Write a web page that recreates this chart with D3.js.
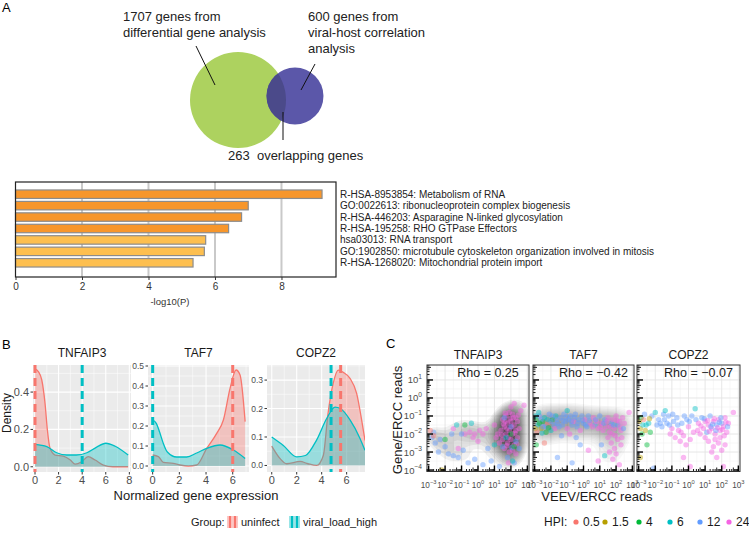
<!DOCTYPE html>
<html>
<head>
<meta charset="utf-8">
<script src="https://cdn.jsdelivr.net/npm/d3@7"></script>
<style>
  body { margin: 0; background: #fff; }
  svg { display: block; }
</style>
</head>
<body>
<svg id="fig" width="749" height="534"></svg>
<script>
// ---------- data ----------
const vennSizes = [1707, 600];
const vennOverlap = 263;
const vennText1 = ["1707 genes from", "differential gene analysis"];
const vennText2 = ["600 genes from", "viral-host correlation", "analysis"];

const termLabels = [
  "R-HSA-8953854: Metabolism of RNA",
  "GO:0022613: ribonucleoprotein complex biogenesis",
  "R-HSA-446203: Asparagine N-linked glycosylation",
  "R-HSA-195258: RHO GTPase Effectors",
  "hsa03013: RNA transport",
  "GO:1902850: microtubule cytoskeleton organization involved in mitosis",
  "R-HSA-1268020: Mitochondrial protein import"
];
const termValues = [9.22, 7.0, 6.8, 6.41, 5.72, 5.68, 5.34];
const barTicks = [0, 2, 4, 6, 8];

const densityGenes = ["TNFAIP3", "TAF7", "COPZ2"];
const groups = ["uninfect", "viral_load_high"];
const groupColors = ["#F8766D", "#00BFC4"];
// [normalized expression, density]
const tnfUninfect = [[0,0.524],[0.28,0.51],[0.57,0.466],[0.85,0.34],[1.05,0.197],[1.27,0.10],[1.7,0.063],[2.4,0.057],[3.0,0.036],[3.4,0.014],[3.96,0.027],[4.5,0.054],[5.1,0.036],[5.8,0.009],[6.6,0.0],[7.9,0.0]];
const tnfViral = [[0,0.12],[1.0,0.108],[1.84,0.075],[2.7,0.063],[3.5,0.063],[4.4,0.075],[5.2,0.104],[6.0,0.126],[6.8,0.11],[7.9,0.063]];
const tafUninfect = [[0,0.055],[0.43,0.047],[0.8,0.018],[1.55,0.013],[2.05,0.005],[2.67,0.0],[3.3,0.005],[4.05,0.088],[4.8,0.163],[5.3,0.23],[5.8,0.388],[6.25,0.48],[6.55,0.455],[6.93,0.222]];
const tafViral = [[0,0.23],[0.27,0.213],[0.52,0.17],[0.77,0.118],[1.1,0.07],[1.8,0.045],[2.55,0.045],[3.3,0.065],[4.05,0.088],[5.05,0.105],[6.05,0.08],[6.93,0.038]];
const copUninfect = [[0,0.068],[0.67,0.024],[1.2,0.006],[2.27,0.014],[2.9,0.006],[3.6,0.0],[4.13,0.035],[4.5,0.18],[4.93,0.29],[5.33,0.335],[5.73,0.327],[6.27,0.306],[6.8,0.253],[7.2,0.16],[7.47,0.088]];
const copViral = [[0,0.10],[0.93,0.07],[2.0,0.03],[2.7,0.035],[3.6,0.09],[4.4,0.165],[5.07,0.205],[5.5,0.2],[6.27,0.16],[7.07,0.095],[7.47,0.053]];
const uninfectMedian = [0, 6.0, 5.52];
const viralMedian = [4, 0, 4.75];

const hpiLevels = ["0.5", "1.5", "4", "6", "12", "24"];
const hpiColors = ["#F8766D", "#B79F00", "#00BA38", "#00BFC4", "#619CFF", "#F564E3"];
const rhoValues = [0.25, -0.42, -0.07];
// [log10 VEEV/ERCC, log10 Gene/ERCC, HPI index]
const tnfPoints = [
 [1.5,-1.2,5],[1.7,-1.0,5],[1.9,-0.8,5],[2.1,-0.9,5],[2.3,-1.1,5],[1.6,-1.6,5],[1.8,-1.4,5],[2.0,-1.3,5],[2.2,-1.5,5],[2.4,-1.3,5],
 [1.4,-1.8,5],[1.7,-2.0,5],[1.9,-1.8,5],[2.1,-2.0,5],[2.3,-1.8,5],[1.5,-2.3,5],[1.8,-2.5,5],[2.0,-2.3,5],[2.2,-2.6,5],[2.4,-2.2,5],
 [1.6,-2.8,5],[1.9,-3.0,5],[2.1,-2.9,5],[2.3,-3.1,5],[1.3,-2.5,5],[1.2,-2.0,5],[2.5,-1.7,5],[2.6,-0.7,5],[2.0,-0.5,5],[2.2,-0.3,5],
 [2.8,-0.4,5],[1.0,-1.5,5],[1.1,-2.2,5],[1.75,-1.7,5],[2.05,-1.6,5],[1.85,-2.2,5],[2.15,-1.1,5],[1.65,-1.3,5],
 [1.55,-1.45,5],[1.95,-1.15,5],[2.25,-1.95,5],[1.45,-2.05,5],[2.35,-2.55,5],[1.75,-2.65,5],[2.05,-2.75,4],[1.65,-0.85,5],[2.45,-0.95,5],[1.85,-3.6,5],
 [1.6,-1.1,4],[2.0,-1.6,4],[2.3,-2.4,4],[1.8,-3.3,4],[2.2,-3.6,4],[1.5,-2.7,4],[2.5,-2.8,4],[0.8,-3.5,4],[1.3,-3.8,4],
 [1.7,-2.2,3],[2.1,-3.5,3],[1.0,-2.6,3],[2.0,-2.0,2],[2.2,-2.7,2],
 [-0.8,-2.0,5],[-0.5,-1.9,5],[-0.2,-2.0,5],[0.1,-1.8,5],[0.3,-2.0,5],[-0.3,-2.2,5],[0.0,-2.4,5],[-1.5,-1.7,5],[-1.2,-2.8,5],[0.5,-1.7,5],
 [-2.8,-2.2,4],[-2.6,-2.5,4],[-2.3,-2.3,4],[-2.0,-2.7,4],[-1.8,-3.1,4],[-1.5,-3.2,4],[-1.2,-3.3,4],[-0.9,-2.9,4],[-2.4,-3.0,4],[-1.0,-2.0,4],
 [-0.6,-3.6,4],[-0.2,-3.4,4],[0.3,-3.7,4],[-2.7,-1.9,4],[-1.6,-2.0,4],[0.6,-2.8,4],
 [-2.9,-1.8,0],[-2.7,-2.1,0],[-2.2,-4.0,1],[-0.8,-1.5,2],[-2.0,-2.3,2],[-1.3,-1.5,3],[-0.4,-1.4,3]
];
const tafPoints = [
 [-2.9,-1.2,2],[-2.8,-1.5,3],[-2.7,-1.0,4],[-2.6,-1.7,1],[-2.5,-1.3,2],[-2.4,-1.1,3],[-2.3,-1.6,4],[-2.2,-1.4,0],[-2.1,-0.9,4],[-2.0,-1.8,3],
 [-1.9,-1.2,2],[-1.8,-1.5,4],[-1.7,-1.0,3],[-1.6,-1.4,4],[-2.95,-1.7,1],[-2.85,-1.9,0],[-2.6,-1.2,4],[-2.3,-1.9,2],[-2.0,-1.3,4],[-1.75,-1.7,5],
 [-2.9,-2.6,2],[-2.4,-2.5,0],[-2.75,-0.8,3],
 [-2.95,-1.0,3],[-2.7,-1.4,2],[-2.5,-1.6,4],[-2.2,-1.2,3],[-1.9,-1.0,4],[-1.65,-1.2,4],[-1.5,-1.6,4],[-2.55,-1.95,3],[-2.15,-1.65,2],
 [-1.4,-1.1,4],[-1.3,-1.5,4],[-1.2,-0.9,4],[-1.1,-1.3,4],[-1.0,-1.7,5],[-0.9,-1.2,4],[-0.8,-1.0,4],[-0.7,-1.5,4],[-0.6,-1.3,5],[-0.5,-0.9,4],
 [-0.4,-1.6,4],[-0.3,-1.2,4],[-0.2,-1.8,5],[-0.1,-1.0,4],[0.0,-1.4,4],[0.1,-1.2,5],[0.2,-1.6,4],[0.3,-1.0,4],[0.4,-1.4,5],[-1.35,-2.1,4],
 [-0.85,-2.0,5],[-0.45,-2.2,4],[-1.0,-0.7,3],[-0.2,-2.6,4],[0.3,-2.9,5],[-1.6,-3.3,4],[-0.7,-3.6,4],
 [-1.25,-1.25,4],[-1.05,-1.05,4],[-0.75,-1.3,4],[-0.55,-1.1,4],[-0.35,-1.4,4],[-0.05,-1.25,4],[0.15,-1.5,4],[0.35,-1.25,4],
 [0.6,-1.1,5],[0.7,-1.5,4],[0.8,-1.3,5],[0.9,-1.7,5],[1.0,-1.0,4],[1.1,-1.4,5],[1.2,-1.8,5],[1.3,-1.2,4],[1.4,-1.6,5],[1.5,-1.1,5],
 [1.6,-1.9,5],[1.7,-1.4,4],[1.8,-1.2,5],[1.9,-1.7,5],[2.0,-1.0,5],[2.1,-1.5,4],[2.2,-1.3,5],[2.3,-1.8,5],[2.4,-1.1,5],[2.5,-1.4,5],
 [0.55,-1.6,5],[0.75,-1.2,4],[1.05,-1.6,5],[1.25,-1.4,4],[1.45,-1.3,5],[1.65,-1.6,5],[1.85,-1.5,4],[2.05,-1.25,5],[2.25,-1.6,5],[2.45,-1.7,4],
 [1.95,-2.1,5],[1.75,-2.0,5],[2.35,-2.2,5],
 [2.8,-0.8,5],[1.5,-2.2,5],[1.7,-2.5,5],[1.9,-2.8,5],[2.0,-3.1,5],[1.8,-3.4,5],[2.1,-2.3,5],[1.6,-3.0,5],[1.3,-3.2,3],[2.2,-3.7,5],
 [1.1,-2.6,4],[0.9,-3.5,5],[2.3,-2.6,5]
];
const copPoints = [
 [-2.95,-1.3,1],[-2.9,-1.7,1],[-2.85,-1.1,2],[-2.8,-2.0,2],[-2.75,-1.5,3],[-2.7,-1.2,0],[-2.6,-1.8,1],[-2.5,-2.6,2],[-2.9,-3.3,1],[-2.4,-1.4,3],
 [-2.3,-1.9,2],[-2.2,-1.0,4],[-2.0,-0.8,3],[-1.9,-1.5,4],[-2.65,-0.9,4],[-2.35,-1.15,1],[-2.55,-1.5,3],
 [-1.8,-1.2,4],[-1.6,-1.6,4],[-1.5,-0.9,4],[-1.3,-1.4,4],[-1.2,-1.0,4],[-1.0,-1.7,5],[-0.9,-1.3,4],[-0.7,-1.1,4],[-0.6,-1.8,5],[-0.4,-1.4,4],
 [-0.3,-2.1,5],[-0.1,-1.2,4],[0.0,-1.6,5],[0.2,-1.0,4],[0.3,-1.9,5],[-0.8,-2.2,5],[-1.1,-2.0,5],[-0.5,-2.4,5],[0.1,-2.3,5],[-1.4,-0.7,3],
 [0.4,-0.6,3],[-2.1,-3.9,4],[-0.3,-3.3,5],[0.1,-3.8,5],
 [-1.7,-1.4,4],[-1.45,-1.2,4],[-1.15,-1.5,4],[-0.95,-0.9,4],[-0.65,-1.5,4],[-0.25,-1.0,4],[0.05,-1.3,4],[0.45,-1.2,4],[-0.45,-1.9,5],[-0.15,-2.6,5],
 [0.6,-1.4,5],[0.8,-1.1,4],[0.9,-1.7,5],[1.0,-1.3,5],[1.1,-1.9,4],[1.2,-1.5,5],[1.3,-1.0,4],[1.4,-1.7,5],[1.5,-1.3,5],[1.6,-2.0,5],
 [1.7,-1.5,4],[1.8,-1.2,5],[1.9,-1.8,5],[2.0,-1.4,4],[2.1,-1.6,5],[2.2,-1.1,5],[2.3,-1.9,5],[2.4,-1.4,5],[1.35,-1.6,4],[1.65,-1.8,4],
 [0.55,-1.8,5],[0.75,-1.55,5],[0.95,-1.15,4],[1.15,-1.25,5],[1.45,-1.45,4],[1.55,-1.15,5],[1.75,-1.65,5],[1.85,-1.35,4],[2.05,-1.75,5],[2.25,-1.35,5],
 [2.35,-1.6,4],[1.25,-1.85,5],[1.6,-2.3,5],[1.9,-2.2,5],
 [1.95,-1.1,4],[2.15,-2.1,5],[2.7,-0.8,5],[1.2,-2.4,5],[1.5,-2.7,5],[1.8,-2.5,5],[2.0,-2.9,5],[1.7,-3.3,5],[2.2,-2.6,5],[1.4,-3.0,5],
 [2.1,-3.8,5],[1.0,-2.2,5],[0.7,-2.0,5]
];

// ---------- drawing ----------
const svg = d3.select("#fig").attr("font-family", "'Liberation Sans', Arial, sans-serif");
const defs = svg.append("defs");

[["A", 2, 12], ["B", 2, 349], ["C", 386, 348]].forEach(([t, x, y]) => {
  svg.append("text").attr("x", x).attr("y", y).attr("font-size", 13).text(t);
});

// ---- A: Venn ----
const rVenn = d3.scaleSqrt().domain([0, d3.max(vennSizes)]).range([0, 48]);
const c1 = [238, 100], c2 = [295, 96];
defs.append("clipPath").attr("id", "clipGreen")
  .append("circle").attr("cx", c1[0]).attr("cy", c1[1]).attr("r", rVenn(vennSizes[0]));
svg.append("circle").attr("cx", c1[0]).attr("cy", c1[1]).attr("r", rVenn(vennSizes[0])).attr("fill", "#add25f");
svg.append("circle").attr("cx", c2[0]).attr("cy", c2[1]).attr("r", rVenn(vennSizes[1])).attr("fill", "#5b57a9");
svg.append("circle").attr("cx", c2[0]).attr("cy", c2[1]).attr("r", rVenn(vennSizes[1]))
  .attr("fill", "#4b4a8a").attr("clip-path", "url(#clipGreen)");

const leaders = [[196, 46, 215, 85], [315, 64, 301, 90], [283, 112, 283, 140]];
svg.selectAll("line.leader").data(leaders).join("line")
  .attr("x1", d => d[0]).attr("y1", d => d[1]).attr("x2", d => d[2]).attr("y2", d => d[3])
  .attr("stroke", "#111").attr("stroke-width", 1);

const vText = (lines, x, y0) => {
  const t = svg.append("text").attr("x", x).attr("y", y0).attr("font-size", 13).attr("fill", "#222");
  lines.forEach((l, i) => t.append("tspan").attr("x", x).attr("dy", i ? 16 : 0).text(l));
};
vText(vennText1, 123, 21);
vText(vennText2, 308, 21);
svg.append("text").attr("x", 228).attr("y", 160).attr("font-size", 13).attr("fill", "#222")
  .text(vennOverlap + "\u00a0\u00a0overlapping genes");

// ---- A: enrichment bars ----
const bx = d3.scaleLinear().domain([0, 9.64]).range([15.5, 336]);
const by = d3.scaleBand().domain(termLabels).range([187, 270]).paddingInner(0.26).paddingOuter(0.26);
const shade = d3.scaleThreshold().domain([6]).range(["#fdbf4f", "#f7962b"]);
const boxTop = 182, boxBot = 277;

svg.selectAll("line.bgrid").data(barTicks.slice(1)).join("line")
  .attr("x1", d => bx(d)).attr("x2", d => bx(d)).attr("y1", boxTop).attr("y2", boxBot)
  .attr("stroke", "#c9c9c9").attr("stroke-width", 2);
svg.selectAll("rect.bar").data(termValues).join("rect")
  .attr("x", bx(0)).attr("y", (d, i) => by(termLabels[i]))
  .attr("width", d => bx(d) - bx(0)).attr("height", by.bandwidth())
  .attr("fill", d => shade(d)).attr("stroke", "#8c8c8c").attr("stroke-width", 1.2);
svg.append("rect").attr("x", bx(0)).attr("y", boxTop).attr("width", 336 - bx(0)).attr("height", boxBot - boxTop)
  .attr("fill", "none").attr("stroke", "#222").attr("stroke-width", 1.2);
svg.selectAll("text.term").data(termLabels).join("text")
  .attr("x", 340).attr("y", d => by(d) + by.bandwidth() / 2 + 3.5)
  .attr("font-size", 10).attr("fill", "#222").text(d => d);

const bAxis = svg.append("g").attr("transform", `translate(0,${boxBot})`)
  .call(d3.axisBottom(bx).tickValues(barTicks).tickSize(3).tickFormat(d3.format("d")));
bAxis.select(".domain").remove();
bAxis.selectAll("text").attr("font-size", 10).attr("fill", "#333").attr("font-family", null);
bAxis.selectAll("line").attr("stroke", "#333");
svg.append("text").attr("x", 170).attr("y", 305).attr("text-anchor", "middle")
  .attr("font-size", 9.5).attr("fill", "#333").text("-log10(P)");

// ---- B: density facets ----
const bTop = 365, bBot = 472;
const bFacets = [
  { px: [33, 131], xd: [-0.17, 8.14], yd: [-0.028, 0.545], ys: 0.2, xt: [0, 2, 4, 6, 8], un: tnfUninfect, vl: tnfViral, yfs: 11 },
  { px: [148, 249], xd: [-0.35, 7.22], yd: [-0.03, 0.505], ys: 0.1, xt: [0, 2, 4, 6], un: tafUninfect, vl: tafViral, yfs: 8.5 },
  { px: [267, 365], xd: [-0.38, 7.47], yd: [-0.023, 0.353], ys: 0.1, xt: [0, 2, 4, 6], un: copUninfect, vl: copViral, yfs: 8.5 }
];

bFacets.forEach((f, i) => {
  const x = d3.scaleLinear().domain(f.xd).range(f.px);
  const y = d3.scaleLinear().domain(f.yd).range([bBot, bTop]);
  const g = svg.append("g");
  const clipId = "clipB" + i;
  defs.append("clipPath").attr("id", clipId).append("rect")
    .attr("x", f.px[0]).attr("y", bTop).attr("width", f.px[1] - f.px[0]).attr("height", bBot - bTop);

  g.append("rect").attr("x", f.px[0]).attr("y", bTop).attr("width", f.px[1] - f.px[0]).attr("height", bBot - bTop)
    .attr("fill", "#ebebeb");
  const yMajor = d3.range(0, f.yd[1], f.ys);
  const yMinor = yMajor.map(v => v + f.ys / 2).filter(v => v < f.yd[1]);
  const xMinor = d3.range(1, f.xd[1], 2);
  const grid = g.append("g").attr("stroke", "#fff");
  grid.selectAll("line.ymin").data(yMinor).join("line").attr("stroke-width", 0.5)
    .attr("x1", f.px[0]).attr("x2", f.px[1]).attr("y1", d => y(d)).attr("y2", d => y(d));
  grid.selectAll("line.xmin").data(xMinor).join("line").attr("stroke-width", 0.5)
    .attr("y1", bTop).attr("y2", bBot).attr("x1", d => x(d)).attr("x2", d => x(d));
  grid.selectAll("line.ymaj").data(yMajor).join("line").attr("stroke-width", 1.1)
    .attr("x1", f.px[0]).attr("x2", f.px[1]).attr("y1", d => y(d)).attr("y2", d => y(d));
  grid.selectAll("line.xmaj").data(f.xt).join("line").attr("stroke-width", 1.1)
    .attr("y1", bTop).attr("y2", bBot).attr("x1", d => x(d)).attr("x2", d => x(d));

  const plot = g.append("g").attr("clip-path", `url(#${clipId})`);
  const area = d3.area().x(d => x(d[0])).y0(y(0)).y1(d => y(d[1])).curve(d3.curveMonotoneX);
  const line = d3.line().x(d => x(d[0])).y(d => y(d[1])).curve(d3.curveMonotoneX);
  [f.un, f.vl].forEach((pts, k) => {
    plot.append("path").attr("d", area(pts)).attr("fill", groupColors[k]).attr("fill-opacity", 0.35);
    plot.append("path").attr("d", line(pts)).attr("fill", "none").attr("stroke", groupColors[k]).attr("stroke-width", 1.3);
  });
  [uninfectMedian[i], viralMedian[i]].forEach((m, k) => {
    plot.append("line").attr("x1", x(m)).attr("x2", x(m)).attr("y1", bTop).attr("y2", bBot)
      .attr("stroke", groupColors[k]).attr("stroke-width", 3).attr("stroke-dasharray", "8,5");
  });

  // axes
  const fmt = d3.format(".1f");
  g.selectAll("line.yt").data(yMajor).join("line")
    .attr("x1", f.px[0] - 2.5).attr("x2", f.px[0]).attr("y1", d => y(d)).attr("y2", d => y(d)).attr("stroke", "#333");
  g.selectAll("text.yl").data(yMajor).join("text")
    .attr("x", f.px[0] - 4).attr("y", d => y(d) + f.yfs * 0.35).attr("text-anchor", "end")
    .attr("font-size", f.yfs).attr("fill", "#4d4d4d").text(d => fmt(d));
  g.selectAll("line.xt").data(f.xt).join("line")
    .attr("y1", bBot).attr("y2", bBot + 2.5).attr("x1", d => x(d)).attr("x2", d => x(d)).attr("stroke", "#333");
  g.selectAll("text.xl").data(f.xt).join("text")
    .attr("x", d => x(d)).attr("y", 484).attr("text-anchor", "middle")
    .attr("font-size", 11).attr("fill", "#4d4d4d").text(d => d);
  g.append("text").attr("x", (f.px[0] + f.px[1]) / 2).attr("y", 357).attr("text-anchor", "middle")
    .attr("font-size", 12).attr("fill", "#1a1a1a").text(densityGenes[i]);
});
svg.append("text").attr("transform", "translate(11,413) rotate(-90)").attr("text-anchor", "middle")
  .attr("font-size", 12).attr("fill", "#1a1a1a").text("Density");
svg.append("text").attr("x", 196).attr("y", 500).attr("text-anchor", "middle")
  .attr("font-size", 13).attr("fill", "#1a1a1a").text("Normalized gene expression");

// ---- C: scatter facets ----
const cTop = 365, cBot = 471.5;
const cFacets = [[427, 529], [533, 634], [637, 740]];
const cPoints = [tnfPoints, tafPoints, copPoints];
const cContour = [0.06, 0.028, 0];   // opacity of each density layer, 0 = none
const sup = (sel, base, exp, fs) => {
  sel.append("tspan").attr("font-size", fs).text(base);
  sel.append("tspan").attr("font-size", fs * 0.7).attr("dy", -fs * 0.45).text(exp);
};

cFacets.forEach((px, i) => {
  const x = d3.scaleLinear().domain([-3.1, 3.1]).range(px);
  const y = d3.scaleLinear().domain([-4.08, 1.83]).range([cBot, cTop]);
  const g = svg.append("g");
  const clipId = "clipC" + i;
  defs.append("clipPath").attr("id", clipId).append("rect")
    .attr("x", px[0]).attr("y", cTop).attr("width", px[1] - px[0]).attr("height", cBot - cTop);
  g.append("rect").attr("x", px[0]).attr("y", cTop).attr("width", px[1] - px[0]).attr("height", cBot - cTop).attr("fill", "#fff");

  const xMaj = d3.range(-3, 4), yMaj = d3.range(-4, 2);
  const xMin = d3.range(-3, 3).map(d => d + 0.5), yMin = d3.range(-4, 2).map(d => d + 0.5).filter(d => d < 1.83);
  const grid = g.append("g");
  grid.selectAll("line.a").data(xMin).join("line").attr("stroke", "#f2f2f2").attr("stroke-width", 0.6)
    .attr("x1", d => x(d)).attr("x2", d => x(d)).attr("y1", cTop).attr("y2", cBot);
  grid.selectAll("line.b").data(yMin).join("line").attr("stroke", "#f2f2f2").attr("stroke-width", 0.6)
    .attr("y1", d => y(d)).attr("y2", d => y(d)).attr("x1", px[0]).attr("x2", px[1]);
  grid.selectAll("line.c").data(xMaj).join("line").attr("stroke", "#e3e3e3").attr("stroke-width", 0.9)
    .attr("x1", d => x(d)).attr("x2", d => x(d)).attr("y1", cTop).attr("y2", cBot);
  grid.selectAll("line.d").data(yMaj).join("line").attr("stroke", "#e3e3e3").attr("stroke-width", 0.9)
    .attr("y1", d => y(d)).attr("y2", d => y(d)).attr("x1", px[0]).attr("x2", px[1]);

  const plot = g.append("g").attr("clip-path", `url(#${clipId})`);
  const pts = cPoints[i];
  if (cContour[i] > 0) {
    const dens = d3.contourDensity().x(d => x(d[0])).y(d => y(d[1]))
      .size([749, 534]).bandwidth(i === 0 ? 6 : 7).thresholds(22)(pts);
    plot.selectAll("path.cont").data(dens.slice(3)).join("path")
      .attr("d", d3.geoPath()).attr("fill", "#000").attr("fill-opacity", cContour[i]);
  }
  plot.selectAll("circle").data(pts).join("circle")
    .attr("cx", d => x(d[0])).attr("cy", d => y(d[1])).attr("r", 2.7)
    .attr("fill", d => hpiColors[d[2]]).attr("fill-opacity", 0.45);

  // log ticks on left and bottom
  const logTicks = (lo, hi) => {
    const out = [];
    for (let d = Math.floor(lo); d <= hi; d++) {
      for (let k = 1; k <= 9; k++) {
        const v = d + Math.log10(k);
        if (v >= lo && v <= hi) out.push({ v, len: k === 1 ? 6 : (k === 5 ? 4 : 2.5), w: k === 1 ? 1.4 : 0.9 });
      }
    }
    return out;
  };
  g.selectAll("line.lt").data(logTicks(-4.08, 1.83)).join("line")
    .attr("x1", px[0]).attr("x2", d => px[0] + d.len).attr("y1", d => y(d.v)).attr("y2", d => y(d.v))
    .attr("stroke", "#000").attr("stroke-width", d => d.w);
  g.selectAll("line.bt").data(logTicks(-3.1, 3.1)).join("line")
    .attr("y1", cBot).attr("y2", d => cBot - d.len).attr("x1", d => x(d.v)).attr("x2", d => x(d.v))
    .attr("stroke", "#000").attr("stroke-width", d => d.w);

  g.append("rect").attr("x", px[0]).attr("y", cTop).attr("width", px[1] - px[0]).attr("height", cBot - cTop)
    .attr("fill", "none").attr("stroke", "#333").attr("stroke-width", 1);

  xMaj.forEach(d => {
    const t = g.append("text").attr("x", x(d)).attr("y", 488).attr("text-anchor", "middle").attr("fill", "#4d4d4d");
    sup(t, "10", String(d).replace("-", "\u2212"), 8.2);
  });
  if (i === 0) {
    yMaj.forEach(d => {
      const t = g.append("text").attr("x", px[0] - 5).attr("y", y(d) + 3.5).attr("text-anchor", "end").attr("fill", "#4d4d4d");
      sup(t, "10", String(d).replace("-", "\u2212"), 9.5);
    });
  }
  g.append("text").attr("x", (px[0] + px[1]) / 2).attr("y", 359).attr("text-anchor", "middle")
    .attr("font-size", 12).attr("fill", "#1a1a1a").text(densityGenes[i]);
  g.append("text").attr("x", (px[0] + px[1]) / 2 + 10).attr("y", 377).attr("text-anchor", "middle")
    .attr("font-size", 12.5).attr("fill", "#1a1a1a")
    .text("Rho = " + d3.format(".2f")(rhoValues[i]).replace("-", "\u2212"));
});
svg.append("text").attr("transform", "translate(402,420) rotate(-90)").attr("text-anchor", "middle")
  .attr("font-size", 13).attr("fill", "#1a1a1a").text("Gene/ERCC reads");
svg.append("text").attr("x", 597).attr("y", 501).attr("text-anchor", "middle")
  .attr("font-size", 13).attr("fill", "#1a1a1a").text("VEEV/ERCC reads");

// ---- legends ----
const legY = 526;
svg.append("text").attr("x", 191).attr("y", legY).attr("font-size", 11).attr("fill", "#1a1a1a").text("Group:");
const groupKeyX = [227, 289];
groups.forEach((gname, k) => {
  const kx = groupKeyX[k];
  svg.append("rect").attr("x", kx).attr("y", legY - 10).attr("width", 11).attr("height", 12)
    .attr("fill", groupColors[k]).attr("fill-opacity", 0.4);
  [kx + 3, kx + 8].forEach(lx => svg.append("line").attr("x1", lx).attr("x2", lx)
    .attr("y1", legY - 10).attr("y2", legY + 2).attr("stroke", groupColors[k]).attr("stroke-width", 2.2));
  svg.append("text").attr("x", kx + 14).attr("y", legY).attr("font-size", 11).attr("fill", "#1a1a1a").text(gname);
});

svg.append("text").attr("x", 544).attr("y", legY).attr("font-size", 12).attr("fill", "#1a1a1a").text("HPI:");
const hpiDotX = [576, 605, 639, 670, 700, 729];
hpiLevels.forEach((h, k) => {
  svg.append("circle").attr("cx", hpiDotX[k]).attr("cy", legY - 4).attr("r", 2.6).attr("fill", hpiColors[k]);
  svg.append("text").attr("x", hpiDotX[k] + 7).attr("y", legY).attr("font-size", 12).attr("fill", "#1a1a1a").text(h);
});
</script>
</body>
</html>
